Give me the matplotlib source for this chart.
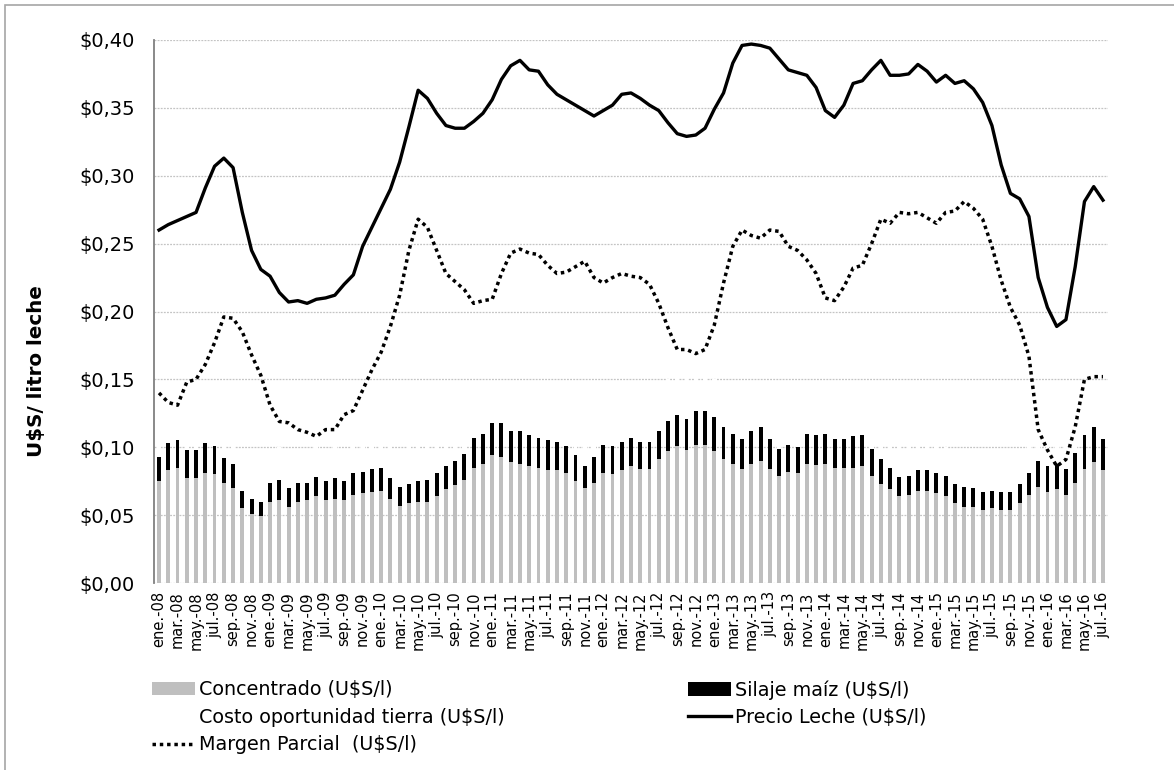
import numpy as np
import matplotlib
matplotlib.use("Agg")
import matplotlib.pyplot as plt
from matplotlib.patches import Patch, Rectangle
from matplotlib.lines import Line2D
from matplotlib.ticker import FuncFormatter

# meses ene-08 .. jul-16
meses_abr = ["ene.", "feb.", "mar.", "abr.", "may.", "jun.",
             "jul.", "ago.", "sep.", "oct.", "nov.", "dic."]
anios = ["08", "09", "10", "11", "12", "13", "14", "15", "16"]
meses = []
for a in anios:
    for m in meses_abr:
        meses.append(m + "-" + a)
meses = meses[:103]

# Concentrado (U$S/l)
concentrado = [0.075, 0.083, 0.085, 0.077, 0.077, 0.081, 0.080, 0.074, 0.070, 0.055,
               0.051, 0.049, 0.060, 0.061, 0.056, 0.060, 0.061, 0.064, 0.061, 0.062,
               0.061, 0.065, 0.066, 0.067, 0.068, 0.062, 0.057, 0.059, 0.060, 0.060,
               0.064, 0.069, 0.072, 0.076, 0.085, 0.088, 0.094, 0.093, 0.089, 0.088,
               0.086, 0.085, 0.083, 0.083, 0.081, 0.075, 0.070, 0.074, 0.081, 0.080,
               0.083, 0.086, 0.084, 0.084, 0.091, 0.097, 0.101, 0.098, 0.102, 0.102,
               0.097, 0.091, 0.088, 0.084, 0.088, 0.090, 0.084, 0.079, 0.082, 0.081,
               0.088, 0.087, 0.088, 0.085, 0.085, 0.085, 0.086, 0.079, 0.073, 0.069,
               0.064, 0.065, 0.068, 0.068, 0.066, 0.064, 0.059, 0.056, 0.056, 0.054,
               0.055, 0.054, 0.054, 0.059, 0.065, 0.071, 0.067, 0.069, 0.065, 0.074,
               0.084, 0.089, 0.083]

# Silaje maiz (U$S/l)
silaje = [0.018, 0.020, 0.020, 0.021, 0.021, 0.022, 0.021, 0.018, 0.018, 0.013,
          0.011, 0.011, 0.014, 0.015, 0.014, 0.014, 0.013, 0.014, 0.014, 0.015,
          0.014, 0.016, 0.016, 0.017, 0.017, 0.015, 0.014, 0.014, 0.015, 0.016,
          0.017, 0.017, 0.018, 0.019, 0.022, 0.022, 0.024, 0.025, 0.023, 0.024,
          0.023, 0.022, 0.022, 0.021, 0.020, 0.019, 0.016, 0.019, 0.021, 0.021,
          0.021, 0.021, 0.020, 0.020, 0.021, 0.022, 0.023, 0.023, 0.025, 0.025,
          0.025, 0.024, 0.022, 0.022, 0.024, 0.025, 0.022, 0.020, 0.020, 0.019,
          0.022, 0.022, 0.022, 0.021, 0.021, 0.023, 0.023, 0.020, 0.018, 0.016,
          0.014, 0.014, 0.015, 0.015, 0.015, 0.015, 0.014, 0.015, 0.014, 0.013,
          0.013, 0.013, 0.013, 0.014, 0.016, 0.019, 0.019, 0.019, 0.019, 0.022,
          0.025, 0.026, 0.023]

# Costo oportunidad tierra (U$S/l) - barras blancas
costo_tierra = [0.024, 0.024, 0.024, 0.024, 0.024, 0.024, 0.024, 0.024, 0.024, 0.024, 0.024, 0.024,
                0.024, 0.024, 0.024, 0.024, 0.024, 0.024, 0.024, 0.024, 0.024, 0.024, 0.024, 0.024,
                0.028, 0.028, 0.028, 0.028, 0.028, 0.028, 0.028, 0.028, 0.028, 0.028, 0.028, 0.028,
                0.030, 0.030, 0.030, 0.030, 0.030, 0.030, 0.030, 0.030, 0.030, 0.030, 0.030, 0.030,
                0.030, 0.030, 0.030, 0.030, 0.030, 0.030, 0.031, 0.031, 0.030, 0.030, 0.030, 0.030,
                0.028, 0.028, 0.028, 0.028, 0.028, 0.028, 0.028, 0.028, 0.028, 0.028, 0.028, 0.028,
                0.025, 0.025, 0.025, 0.025, 0.025, 0.025, 0.025, 0.025, 0.025, 0.025, 0.025, 0.025,
                0.021, 0.021, 0.021, 0.021, 0.021, 0.021, 0.021, 0.021, 0.021, 0.021, 0.021, 0.021,
                0.020, 0.020, 0.020, 0.020, 0.020, 0.020, 0.020]

# Precio Leche (U$S/l)
precio = [0.260, 0.264, 0.267, 0.270, 0.273, 0.291, 0.307, 0.313, 0.306, 0.273,
          0.245, 0.231, 0.226, 0.214, 0.207, 0.208, 0.206, 0.209, 0.210, 0.212,
          0.220, 0.227, 0.248, 0.262, 0.276, 0.290, 0.310, 0.336, 0.363, 0.357,
          0.346, 0.337, 0.335, 0.335, 0.340, 0.346, 0.356, 0.371, 0.381, 0.385,
          0.378, 0.377, 0.367, 0.360, 0.356, 0.352, 0.348, 0.344, 0.348, 0.352,
          0.360, 0.361, 0.357, 0.352, 0.348, 0.339, 0.331, 0.329, 0.330, 0.335,
          0.349, 0.361, 0.383, 0.396, 0.397, 0.396, 0.394, 0.386, 0.378, 0.376,
          0.374, 0.365, 0.348, 0.343, 0.352, 0.368, 0.370, 0.378, 0.385, 0.374,
          0.374, 0.375, 0.382, 0.377, 0.369, 0.374, 0.368, 0.370, 0.364, 0.354,
          0.337, 0.308, 0.287, 0.283, 0.270, 0.225, 0.203, 0.189, 0.194, 0.233,
          0.281, 0.292, 0.282]

# Margen Parcial (U$S/l)
margen = [0.140, 0.133, 0.131, 0.148, 0.150, 0.161, 0.177, 0.196, 0.195, 0.185,
          0.168, 0.153, 0.131, 0.119, 0.118, 0.113, 0.111, 0.108, 0.113, 0.113,
          0.124, 0.127, 0.142, 0.157, 0.170, 0.189, 0.212, 0.245, 0.268, 0.262,
          0.245, 0.228, 0.222, 0.216, 0.206, 0.208, 0.209, 0.228, 0.243, 0.246,
          0.243, 0.242, 0.234, 0.228, 0.229, 0.233, 0.237, 0.225, 0.221, 0.225,
          0.228, 0.226, 0.225, 0.220, 0.206, 0.188, 0.172, 0.172, 0.169, 0.172,
          0.190, 0.221, 0.248, 0.260, 0.256, 0.254, 0.260, 0.259, 0.248, 0.245,
          0.238, 0.228, 0.210, 0.208, 0.218, 0.232, 0.234, 0.250, 0.268, 0.265,
          0.273, 0.272, 0.273, 0.269, 0.265, 0.273, 0.274, 0.281, 0.276, 0.268,
          0.248, 0.223, 0.203, 0.190, 0.167, 0.113, 0.098, 0.086, 0.091, 0.115,
          0.150, 0.152, 0.152]

x = np.arange(len(meses))
conc = np.array(concentrado)
sil = np.array(silaje)

fig = plt.figure(figsize=(11.74, 7.70), dpi=100)
ax = fig.add_axes([154.4 / 1174, 187 / 770, 953.2 / 1174, 543 / 770])

w = 0.42
ax.bar(x, conc, w, color="#bfbfbf", zorder=2)
ax.bar(x, sil, w, bottom=conc, color="black", zorder=2)
ax.bar(x, costo_tierra, w, bottom=conc + sil, color="white", zorder=2)
ax.plot(x, precio, color="black", lw=2.4, zorder=3)
ax.plot(x, margen, color="black", lw=2.5, linestyle=(0, (1, 1.1)), zorder=3)

ax.set_xlim(-0.5, len(meses) - 0.5)
ax.set_ylim(0, 0.40)
ax.set_yticks(np.arange(0, 0.401, 0.05))
ax.yaxis.set_major_formatter(FuncFormatter(lambda v, p: "$" + ("%.2f" % v).replace(".", ",")))
ax.set_xticks(x[::2])
ax.set_xticklabels(meses[::2], rotation=90, fontsize=10.5)
ax.tick_params(axis="y", length=0, pad=14, labelsize=14)
ax.tick_params(axis="x", length=0, pad=6)

ax.set_axisbelow(True)
ax.yaxis.grid(True, color="#c4c4c4", linestyle=(0, (1.5, 1)), lw=0.9, zorder=0)
for s in ["top", "right", "bottom"]:
    ax.spines[s].set_visible(False)
ax.spines["left"].set_color("#808080")
ax.spines["left"].set_linewidth(1.3)

ax.set_ylabel("U$S/ litro leche", fontsize=14.3, fontweight="bold")
ax.yaxis.set_label_coords(-0.114, 0.39)

h_conc = Patch(facecolor="#bfbfbf", edgecolor="none")
h_sil = Patch(facecolor="black", edgecolor="none")
h_tierra = Patch(facecolor="white", edgecolor="none")
h_precio = Line2D([], [], color="black", lw=2.4)
h_margen = Line2D([], [], color="black", lw=2.5, linestyle=(0, (1, 1.1)))

kw = dict(frameon=False, fontsize=13.8, borderpad=0, borderaxespad=0,
          handlelength=2.25, handletextpad=0.2, labelspacing=0.45, loc="upper left")
fig.legend([h_conc, h_tierra, h_margen],
           ["Concentrado (U$S/l)", "Costo oportunidad tierra (U$S/l)", "Margen Parcial  (U$S/l)"],
           bbox_to_anchor=(152 / 1174, 1 - 680 / 770), **kw)
fig.legend([h_sil, h_precio],
           ["Silaje maíz (U$S/l)", "Precio Leche (U$S/l)"],
           bbox_to_anchor=(688 / 1174, 1 - 680 / 770), **kw)

fig.patches.append(Rectangle((5 / 1174, -0.1), 1.2, 1.1 - 5 / 770, transform=fig.transFigure,
                             fill=False, edgecolor="#a6a6a6", lw=1.2))

fig.savefig("out.png", dpi=100)
